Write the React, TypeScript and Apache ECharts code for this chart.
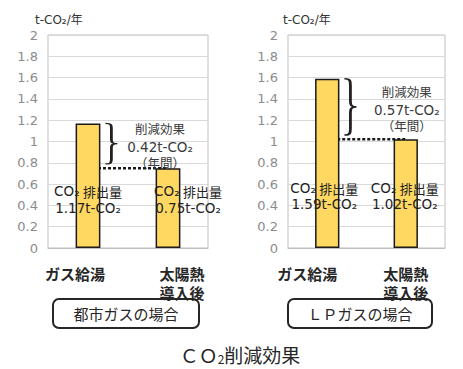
import React, { useEffect, useRef } from "react";
import * as echarts from "echarts";

const categories = ["ガス給湯", "太陽熱\n導入後"];
const cityGasValues = [1.17, 0.75];
const lpGasValues = [1.59, 1.02];
const panelTitles = ["都市ガスの場合", "ＬＰガスの場合"];
const reductionLabels = ["0.42t-CO₂", "0.57t-CO₂"];
const emissionLabels = [
  ["1.17t-CO₂", "0.75t-CO₂"],
  ["1.59t-CO₂", "1.02t-CO₂"],
];
const unitLabel = "t-CO₂/年";
const chartTitle = "{a|ＣＯ}{s|2}{a|削減効果}";
const yMin = 0;
const yMax = 2;
const yInterval = 0.2;

const JP = "'Noto Sans CJK JP', sans-serif";
const LAT = "'DejaVu Sans', 'Noto Sans CJK JP', sans-serif";

echarts.graphic.registerShape(
  "brace",
  echarts.graphic.extendPath(
    "M0,0 C6,0 6,4 6,12 L6,40 C6,47 7,50 12,50 C7,50 6,53 6,60 L6,88 C6,96 6,100 0,100",
    {}
  )
);

export default function App() {
  const ref = useRef<HTMLDivElement>(null);
  useEffect(() => {
    document.body.style.margin = "0";
    const chart = echarts.init(ref.current!, null, { renderer: "svg" });
    const panels = [cityGasValues, lpGasValues];
    const grids = [
      { left: 48, right: 255, top: 35, bottom: 121 },
      { left: 288, right: 18, top: 35, bottom: 121 },
    ];
    const labelPads = [
      [[0, 26, 0, 0], [0, 0, 0, 28]],
      [[0, 40, 0, 0], [0, 0, 0, 0]],
    ];
    const namePads = [[0, 0, 0, -13], [0, 0, 0, -5]];
    chart.setOption({
      animation: false,
      grid: grids.map((g) => ({
        ...g,
        show: true,
        borderColor: "#bfbfbf",
        borderWidth: 1,
      })),
      xAxis: panels.map((_, i) => ({
        type: "category",
        gridIndex: i,
        data: categories.map((c, j) => ({
          value: c,
          textStyle: { padding: labelPads[i][j] },
        })),
        axisTick: { show: false },
        axisLine: { lineStyle: { color: "#bfbfbf" } },
        axisLabel: {
          margin: 16,
          fontSize: 15,
          fontWeight: "bold",
          color: "#262626",
          fontFamily: JP,
          lineHeight: 19,
        },
      })),
      yAxis: panels.map((_, i) => ({
        type: "value",
        gridIndex: i,
        min: yMin,
        max: yMax,
        interval: yInterval,
        name: unitLabel,
        nameLocation: "end",
        nameGap: 9,
        nameTextStyle: {
          align: "left",
          padding: namePads[i],
          fontSize: 12,
          color: "#333",
          fontFamily: LAT,
        },
        axisLabel: {
          margin: 10,
          fontSize: 13,
          color: "#8c8c8c",
          fontFamily: "'DejaVu Sans', sans-serif",
        },
        splitLine: { lineStyle: { color: "#d9d9d9" } },
        axisLine: { show: false },
        axisTick: { show: false },
      })),
      series: [
        ...panels.map((vals, i) => ({
          type: "bar",
          xAxisIndex: i,
          yAxisIndex: i,
          data: vals,
          barWidth: "31%",
          z: 2,
          itemStyle: { color: "#FFD862", borderColor: "#1a1a1a", borderWidth: 1.5 },
        })),
        ...panels.map((vals, i) => ({
          type: "line",
          xAxisIndex: i,
          yAxisIndex: i,
          data: [vals[1], vals[1]],
          symbol: "none",
          z: 1,
          lineStyle: { type: [3, 2], width: 2.5, color: "#1a1a1a" },
        })),
      ],
    });

    const graphics: any[] = [];
    const textOffsets = [-8, 1];
    const emisOffsets = [
      [0, 20],
      [-3, -1],
    ];
    const emisY = [
      [-57, -40],
      [-60, -44],
    ];
    panels.forEach((vals, i) => {
      const p0 = chart.convertToPixel({ gridIndex: i }, [0, vals[0]]) as number[];
      const p1 = chart.convertToPixel({ gridIndex: i }, [1, vals[1]]) as number[];
      const z0 = chart.convertToPixel({ gridIndex: i }, [0, 0]) as number[];
      const z1 = chart.convertToPixel({ gridIndex: i }, [1, 0]) as number[];
      const half = ((z1[0] - z0[0]) * 0.31) / 2;
      const bot = chart.convertToPixel({ gridIndex: i }, [0, vals[1] + 0.04]) as number[];
      const bx = p0[0] + half + 5;
      const h = bot[1] - p0[1];
      graphics.push({
        type: "brace",
        x: bx,
        y: p0[1],
        scaleX: 1,
        scaleY: h / 100,
        z: 100,
        style: { stroke: "#222", lineWidth: 2.8, fill: "none", strokeNoScale: true },
      });
      const mid = p0[1] + h / 2;
      const cx = p1[0] + textOffsets[i];
      const lines: [string, number, string, number][] = [
        ["削減効果", -15, JP, 12.5],
        [reductionLabels[i], 3, LAT, 13.5],
        ["（年間）", 19, JP, 12.5],
      ];
      lines.forEach(([t, dy, ff, fs]) => {
        graphics.push({
          type: "text",
          x: cx,
          y: mid + dy,
          z: 100,
          style: {
            text: t,
            fontFamily: ff,
            fontSize: fs,
            fill: "#3a3a3a",
            align: "center",
            verticalAlign: "middle",
          },
        });
      });
      [p0[0], p1[0]].forEach((x, j) => {
        graphics.push({
          type: "text",
          x: x + emisOffsets[i][j],
          y: z0[1] + emisY[i][0],
          z: 100,
          style: {
            text: "{l|CO₂} {j|排出量}",
            rich: {
              l: { fontFamily: LAT, fontSize: 13.5, fill: "#222" },
              j: { fontFamily: JP, fontSize: 13, fill: "#222" },
            },
            align: "center",
            verticalAlign: "middle",
          },
        });
        graphics.push({
          type: "text",
          x: x + emisOffsets[i][j],
          y: z0[1] + emisY[i][1],
          z: 100,
          style: {
            text: emissionLabels[i][j],
            fontFamily: LAT,
            fontSize: 13.5,
            fill: "#222",
            align: "center",
            verticalAlign: "middle",
          },
        });
      });
    });
    const boxes = [
      [53, 146],
      [288, 144],
    ];
    boxes.forEach(([bx, bw], i) => {
      graphics.push({
        type: "rect",
        shape: { x: bx, y: 299, width: bw, height: 29, r: 6 },
        style: { fill: "#fff", stroke: "#262626", lineWidth: 2 },
      });
      graphics.push({
        type: "text",
        x: bx + bw / 2,
        y: 313.5,
        style: {
          text: panelTitles[i],
          fontFamily: JP,
          fontSize: 15,
          fill: "#262626",
          align: "center",
          verticalAlign: "middle",
        },
      });
    });
    graphics.push({
      type: "text",
      x: 240,
      y: 352,
      style: {
        text: chartTitle,
        rich: {
          a: { fontFamily: JP, fontSize: 19, fill: "#262626", verticalAlign: "bottom", lineHeight: 24 },
          s: { fontFamily: JP, fontSize: 12, fill: "#262626", verticalAlign: "bottom", lineHeight: 20 },
        },
        align: "center",
        verticalAlign: "middle",
      },
    });
    chart.setOption({ graphic: graphics });
    return () => chart.dispose();
  }, []);
  return <div ref={ref} style={{ width: 463, height: 369 }} />;
}
